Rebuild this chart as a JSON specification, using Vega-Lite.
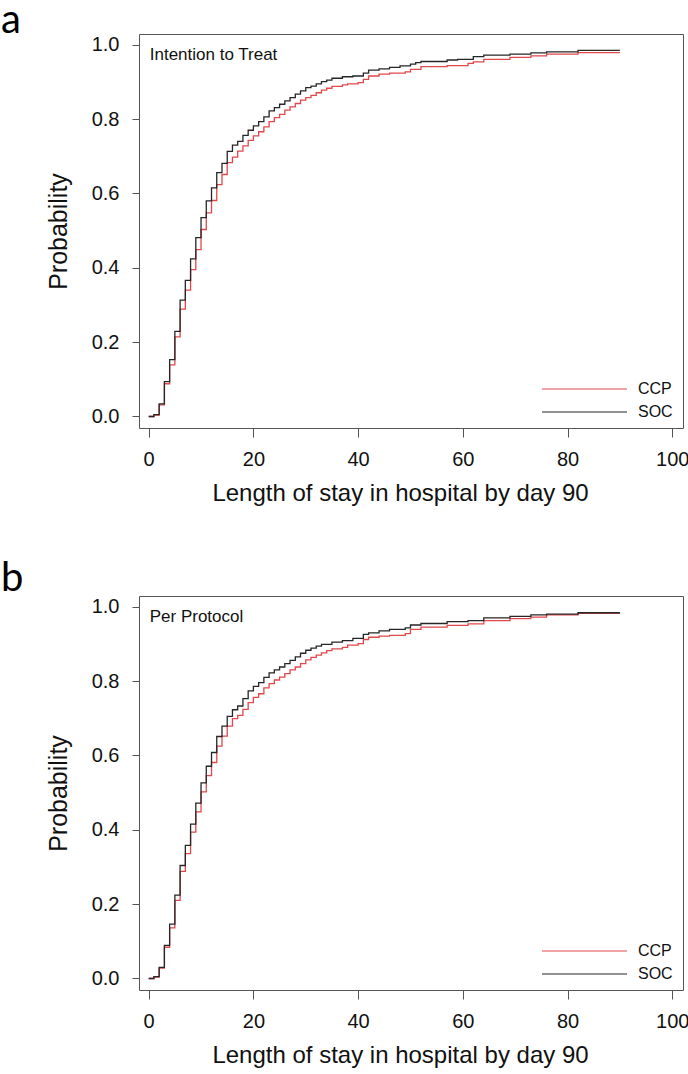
{
  "$schema": "https://vega.github.io/schema/vega-lite/v6.json",
  "background": "white",
  "padding": 0,
  "spacing": 52,
  "config": {
    "view": {"stroke": "#555555", "strokeWidth": 1},
    "font": "Liberation Sans",
    "axis": {"grid": false, "domain": false, "tickColor": "#555555", "tickWidth": 1, "labelColor": "#111111", "titleColor": "#111111", "labelFont": "Liberation Sans", "titleFont": "Liberation Sans", "titleFontWeight": "normal", "labelFontSize": 20},
    "legend": {"labelFont": "Liberation Sans", "labelFontSize": 16, "labelColor": "#111111"}
  },
  "datasets": {
    "itt": [
      {"arm":"CCP","day":0,"prob":0},{"arm":"CCP","day":1,"prob":0.004},{"arm":"CCP","day":2,"prob":0.031},{"arm":"CCP","day":3,"prob":0.088},{"arm":"CCP","day":4,"prob":0.139},{"arm":"CCP","day":5,"prob":0.214},{"arm":"CCP","day":6,"prob":0.289},{"arm":"CCP","day":7,"prob":0.340},{"arm":"CCP","day":8,"prob":0.395},{"arm":"CCP","day":9,"prob":0.449},{"arm":"CCP","day":10,"prob":0.503},{"arm":"CCP","day":11,"prob":0.548},{"arm":"CCP","day":12,"prob":0.581},{"arm":"CCP","day":13,"prob":0.624},{"arm":"CCP","day":14,"prob":0.651},{"arm":"CCP","day":15,"prob":0.683},{"arm":"CCP","day":16,"prob":0.698},{"arm":"CCP","day":17,"prob":0.714},{"arm":"CCP","day":18,"prob":0.728},{"arm":"CCP","day":19,"prob":0.743},{"arm":"CCP","day":20,"prob":0.755},{"arm":"CCP","day":21,"prob":0.766},{"arm":"CCP","day":22,"prob":0.779},{"arm":"CCP","day":23,"prob":0.793},{"arm":"CCP","day":24,"prob":0.804},{"arm":"CCP","day":25,"prob":0.813},{"arm":"CCP","day":26,"prob":0.824},{"arm":"CCP","day":27,"prob":0.833},{"arm":"CCP","day":28,"prob":0.842},{"arm":"CCP","day":29,"prob":0.851},{"arm":"CCP","day":30,"prob":0.858},{"arm":"CCP","day":31,"prob":0.864},{"arm":"CCP","day":32,"prob":0.871},{"arm":"CCP","day":33,"prob":0.878},{"arm":"CCP","day":34,"prob":0.883},{"arm":"CCP","day":35,"prob":0.888},{"arm":"CCP","day":37,"prob":0.892},{"arm":"CCP","day":38,"prob":0.895},{"arm":"CCP","day":40,"prob":0.898},{"arm":"CCP","day":41,"prob":0.907},{"arm":"CCP","day":42,"prob":0.916},{"arm":"CCP","day":44,"prob":0.921},{"arm":"CCP","day":46,"prob":0.924},{"arm":"CCP","day":49,"prob":0.927},{"arm":"CCP","day":50,"prob":0.934},{"arm":"CCP","day":52,"prob":0.941},{"arm":"CCP","day":57,"prob":0.944},{"arm":"CCP","day":61,"prob":0.950},{"arm":"CCP","day":62,"prob":0.954},{"arm":"CCP","day":64,"prob":0.961},{"arm":"CCP","day":69,"prob":0.966},{"arm":"CCP","day":73,"prob":0.970},{"arm":"CCP","day":76,"prob":0.975},{"arm":"CCP","day":82,"prob":0.979},{"arm":"CCP","day":90,"prob":0.979},
      {"arm":"SOC","day":0,"prob":0},{"arm":"SOC","day":1,"prob":0.005},{"arm":"SOC","day":2,"prob":0.034},{"arm":"SOC","day":3,"prob":0.094},{"arm":"SOC","day":4,"prob":0.153},{"arm":"SOC","day":5,"prob":0.229},{"arm":"SOC","day":6,"prob":0.313},{"arm":"SOC","day":7,"prob":0.366},{"arm":"SOC","day":8,"prob":0.424},{"arm":"SOC","day":9,"prob":0.481},{"arm":"SOC","day":10,"prob":0.535},{"arm":"SOC","day":11,"prob":0.580},{"arm":"SOC","day":12,"prob":0.615},{"arm":"SOC","day":13,"prob":0.656},{"arm":"SOC","day":14,"prob":0.681},{"arm":"SOC","day":15,"prob":0.713},{"arm":"SOC","day":16,"prob":0.730},{"arm":"SOC","day":17,"prob":0.740},{"arm":"SOC","day":18,"prob":0.756},{"arm":"SOC","day":19,"prob":0.770},{"arm":"SOC","day":20,"prob":0.782},{"arm":"SOC","day":21,"prob":0.793},{"arm":"SOC","day":22,"prob":0.806},{"arm":"SOC","day":23,"prob":0.822},{"arm":"SOC","day":24,"prob":0.831},{"arm":"SOC","day":25,"prob":0.840},{"arm":"SOC","day":26,"prob":0.849},{"arm":"SOC","day":27,"prob":0.858},{"arm":"SOC","day":28,"prob":0.867},{"arm":"SOC","day":29,"prob":0.876},{"arm":"SOC","day":30,"prob":0.885},{"arm":"SOC","day":31,"prob":0.889},{"arm":"SOC","day":32,"prob":0.895},{"arm":"SOC","day":33,"prob":0.901},{"arm":"SOC","day":34,"prob":0.905},{"arm":"SOC","day":35,"prob":0.910},{"arm":"SOC","day":37,"prob":0.914},{"arm":"SOC","day":39,"prob":0.916},{"arm":"SOC","day":41,"prob":0.924},{"arm":"SOC","day":42,"prob":0.932},{"arm":"SOC","day":44,"prob":0.935},{"arm":"SOC","day":46,"prob":0.939},{"arm":"SOC","day":48,"prob":0.943},{"arm":"SOC","day":50,"prob":0.948},{"arm":"SOC","day":51,"prob":0.952},{"arm":"SOC","day":52,"prob":0.955},{"arm":"SOC","day":57,"prob":0.959},{"arm":"SOC","day":59,"prob":0.961},{"arm":"SOC","day":62,"prob":0.968},{"arm":"SOC","day":64,"prob":0.972},{"arm":"SOC","day":69,"prob":0.975},{"arm":"SOC","day":73,"prob":0.978},{"arm":"SOC","day":76,"prob":0.981},{"arm":"SOC","day":82,"prob":0.985},{"arm":"SOC","day":90,"prob":0.985}
    ],
    "pp": [
      {"arm":"CCP","day":0,"prob":0},{"arm":"CCP","day":1,"prob":0.004},{"arm":"CCP","day":2,"prob":0.028},{"arm":"CCP","day":3,"prob":0.084},{"arm":"CCP","day":4,"prob":0.136},{"arm":"CCP","day":5,"prob":0.210},{"arm":"CCP","day":6,"prob":0.288},{"arm":"CCP","day":7,"prob":0.336},{"arm":"CCP","day":8,"prob":0.394},{"arm":"CCP","day":9,"prob":0.448},{"arm":"CCP","day":10,"prob":0.502},{"arm":"CCP","day":11,"prob":0.546},{"arm":"CCP","day":12,"prob":0.581},{"arm":"CCP","day":13,"prob":0.625},{"arm":"CCP","day":14,"prob":0.652},{"arm":"CCP","day":15,"prob":0.679},{"arm":"CCP","day":16,"prob":0.699},{"arm":"CCP","day":17,"prob":0.708},{"arm":"CCP","day":18,"prob":0.724},{"arm":"CCP","day":19,"prob":0.742},{"arm":"CCP","day":20,"prob":0.756},{"arm":"CCP","day":21,"prob":0.766},{"arm":"CCP","day":22,"prob":0.782},{"arm":"CCP","day":23,"prob":0.793},{"arm":"CCP","day":24,"prob":0.803},{"arm":"CCP","day":25,"prob":0.811},{"arm":"CCP","day":26,"prob":0.820},{"arm":"CCP","day":27,"prob":0.830},{"arm":"CCP","day":28,"prob":0.838},{"arm":"CCP","day":29,"prob":0.847},{"arm":"CCP","day":30,"prob":0.857},{"arm":"CCP","day":31,"prob":0.864},{"arm":"CCP","day":32,"prob":0.870},{"arm":"CCP","day":33,"prob":0.876},{"arm":"CCP","day":34,"prob":0.882},{"arm":"CCP","day":35,"prob":0.887},{"arm":"CCP","day":37,"prob":0.891},{"arm":"CCP","day":38,"prob":0.897},{"arm":"CCP","day":40,"prob":0.901},{"arm":"CCP","day":41,"prob":0.912},{"arm":"CCP","day":42,"prob":0.918},{"arm":"CCP","day":44,"prob":0.921},{"arm":"CCP","day":46,"prob":0.923},{"arm":"CCP","day":49,"prob":0.928},{"arm":"CCP","day":50,"prob":0.939},{"arm":"CCP","day":52,"prob":0.945},{"arm":"CCP","day":57,"prob":0.950},{"arm":"CCP","day":61,"prob":0.954},{"arm":"CCP","day":64,"prob":0.963},{"arm":"CCP","day":69,"prob":0.968},{"arm":"CCP","day":73,"prob":0.972},{"arm":"CCP","day":76,"prob":0.978},{"arm":"CCP","day":82,"prob":0.982},{"arm":"CCP","day":90,"prob":0.982},
      {"arm":"SOC","day":0,"prob":0},{"arm":"SOC","day":1,"prob":0.005},{"arm":"SOC","day":2,"prob":0.030},{"arm":"SOC","day":3,"prob":0.089},{"arm":"SOC","day":4,"prob":0.146},{"arm":"SOC","day":5,"prob":0.224},{"arm":"SOC","day":6,"prob":0.304},{"arm":"SOC","day":7,"prob":0.358},{"arm":"SOC","day":8,"prob":0.415},{"arm":"SOC","day":9,"prob":0.472},{"arm":"SOC","day":10,"prob":0.526},{"arm":"SOC","day":11,"prob":0.571},{"arm":"SOC","day":12,"prob":0.608},{"arm":"SOC","day":13,"prob":0.651},{"arm":"SOC","day":14,"prob":0.679},{"arm":"SOC","day":15,"prob":0.705},{"arm":"SOC","day":16,"prob":0.723},{"arm":"SOC","day":17,"prob":0.733},{"arm":"SOC","day":18,"prob":0.753},{"arm":"SOC","day":19,"prob":0.774},{"arm":"SOC","day":20,"prob":0.786},{"arm":"SOC","day":21,"prob":0.796},{"arm":"SOC","day":22,"prob":0.810},{"arm":"SOC","day":23,"prob":0.822},{"arm":"SOC","day":24,"prob":0.830},{"arm":"SOC","day":25,"prob":0.838},{"arm":"SOC","day":26,"prob":0.847},{"arm":"SOC","day":27,"prob":0.856},{"arm":"SOC","day":28,"prob":0.865},{"arm":"SOC","day":29,"prob":0.875},{"arm":"SOC","day":30,"prob":0.883},{"arm":"SOC","day":31,"prob":0.889},{"arm":"SOC","day":32,"prob":0.894},{"arm":"SOC","day":33,"prob":0.899},{"arm":"SOC","day":35,"prob":0.905},{"arm":"SOC","day":37,"prob":0.909},{"arm":"SOC","day":39,"prob":0.915},{"arm":"SOC","day":41,"prob":0.926},{"arm":"SOC","day":42,"prob":0.930},{"arm":"SOC","day":44,"prob":0.935},{"arm":"SOC","day":46,"prob":0.939},{"arm":"SOC","day":49,"prob":0.943},{"arm":"SOC","day":50,"prob":0.951},{"arm":"SOC","day":52,"prob":0.955},{"arm":"SOC","day":57,"prob":0.960},{"arm":"SOC","day":61,"prob":0.963},{"arm":"SOC","day":64,"prob":0.970},{"arm":"SOC","day":69,"prob":0.974},{"arm":"SOC","day":73,"prob":0.978},{"arm":"SOC","day":76,"prob":0.980},{"arm":"SOC","day":82,"prob":0.984},{"arm":"SOC","day":90,"prob":0.984}
    ]
  },
  "resolve": {"legend": {"color": "independent"}},
  "vconcat": [
    {
      "title": {"text": "a", "anchor": "start", "frame": "bounds", "dx": -45, "offset": -39, "baseline": "alphabetic", "font": "Lato", "fontSize": 40, "fontWeight": "normal", "color": "#000000"},
      "width": 544,
      "height": 394,
      "layer": [
        {"data": {"name": "itt"}, "transform": [{"filter": "datum.arm === 'CCP'"}], "mark": {"type": "line", "interpolate": "step-after", "strokeWidth": 1.3},
         "encoding": {
           "x": {"field": "day", "type": "quantitative", "scale": {"domain": [-1.85, 102.05], "nice": false, "zero": false},
                 "axis": {"values": [0, 20, 40, 60, 80, 100], "tickSize": 9, "labelPadding": 12, "labelFlush": false, "labelOverlap": false, "labelBound": false, "title": "Length of stay in hospital by day 90", "titleFontSize": 24, "titleX": 261, "titleY": 72, "titleBaseline": "alphabetic", "titleAlign": "center"}},
           "y": {"field": "prob", "type": "quantitative", "scale": {"domain": [-0.031, 1.029], "nice": false, "zero": false},
                 "axis": {"values": [0, 0.2, 0.4, 0.6, 0.8, 1.0], "format": ".1f", "tickSize": 7, "labelPadding": 13, "title": "Probability", "titleFontSize": 25, "titleX": -73, "titleY": 197, "titleBaseline": "alphabetic", "titleAngle": 270, "titleAlign": "center"}},
           "color": {"field": "arm", "type": "nominal", "scale": {"domain": ["CCP", "SOC"], "range": ["#E2474B", "#262626"]},
                     "legend": {"title": null, "orient": "none", "legendX": 402, "legendY": 347, "symbolType": "stroke", "symbolSize": 7225, "symbolStrokeWidth": 1.2, "clipHeight": 16, "rowPadding": 7, "labelOffset": 10, "padding": 0}}}},
        {"data": {"name": "itt"}, "transform": [{"filter": "datum.arm === 'SOC'"}], "mark": {"type": "line", "interpolate": "step-after", "strokeWidth": 1.3},
         "encoding": {"x": {"field": "day", "type": "quantitative"}, "y": {"field": "prob", "type": "quantitative"}, "color": {"field": "arm", "type": "nominal"}}},
        {"data": {"values": [{"label": "Intention to Treat"}]},
         "mark": {"type": "text", "align": "left", "baseline": "alphabetic", "font": "Liberation Sans", "fontSize": 17, "color": "#111111"},
         "encoding": {"x": {"datum": 0.2, "type": "quantitative"}, "y": {"datum": 0.959, "type": "quantitative"}, "text": {"field": "label"}}}
      ]
    },
    {
      "title": {"text": "b", "anchor": "start", "frame": "bounds", "dx": -45, "offset": -35, "baseline": "alphabetic", "font": "Lato", "fontSize": 40, "fontWeight": "normal", "color": "#000000"},
      "width": 544,
      "height": 394,
      "layer": [
        {"data": {"name": "pp"}, "transform": [{"filter": "datum.arm === 'CCP'"}], "mark": {"type": "line", "interpolate": "step-after", "strokeWidth": 1.3},
         "encoding": {
           "x": {"field": "day", "type": "quantitative", "scale": {"domain": [-1.85, 102.05], "nice": false, "zero": false},
                 "axis": {"values": [0, 20, 40, 60, 80, 100], "tickSize": 9, "labelPadding": 12, "labelFlush": false, "labelOverlap": false, "labelBound": false, "title": "Length of stay in hospital by day 90", "titleFontSize": 24, "titleX": 261, "titleY": 72, "titleBaseline": "alphabetic", "titleAlign": "center"}},
           "y": {"field": "prob", "type": "quantitative", "scale": {"domain": [-0.031, 1.029], "nice": false, "zero": false},
                 "axis": {"values": [0, 0.2, 0.4, 0.6, 0.8, 1.0], "format": ".1f", "tickSize": 7, "labelPadding": 13, "title": "Probability", "titleFontSize": 25, "titleX": -73, "titleY": 197, "titleBaseline": "alphabetic", "titleAngle": 270, "titleAlign": "center"}},
           "color": {"field": "arm", "type": "nominal", "scale": {"domain": ["CCP", "SOC"], "range": ["#E2474B", "#262626"]},
                     "legend": {"title": null, "orient": "none", "legendX": 402, "legendY": 347, "symbolType": "stroke", "symbolSize": 7225, "symbolStrokeWidth": 1.2, "clipHeight": 16, "rowPadding": 7, "labelOffset": 10, "padding": 0}}}},
        {"data": {"name": "pp"}, "transform": [{"filter": "datum.arm === 'SOC'"}], "mark": {"type": "line", "interpolate": "step-after", "strokeWidth": 1.3},
         "encoding": {"x": {"field": "day", "type": "quantitative"}, "y": {"field": "prob", "type": "quantitative"}, "color": {"field": "arm", "type": "nominal"}}},
        {"data": {"values": [{"label": "Per Protocol"}]},
         "mark": {"type": "text", "align": "left", "baseline": "alphabetic", "font": "Liberation Sans", "fontSize": 17, "color": "#111111"},
         "encoding": {"x": {"datum": 0.2, "type": "quantitative"}, "y": {"datum": 0.959, "type": "quantitative"}, "text": {"field": "label"}}}
      ]
    }
  ]
}
